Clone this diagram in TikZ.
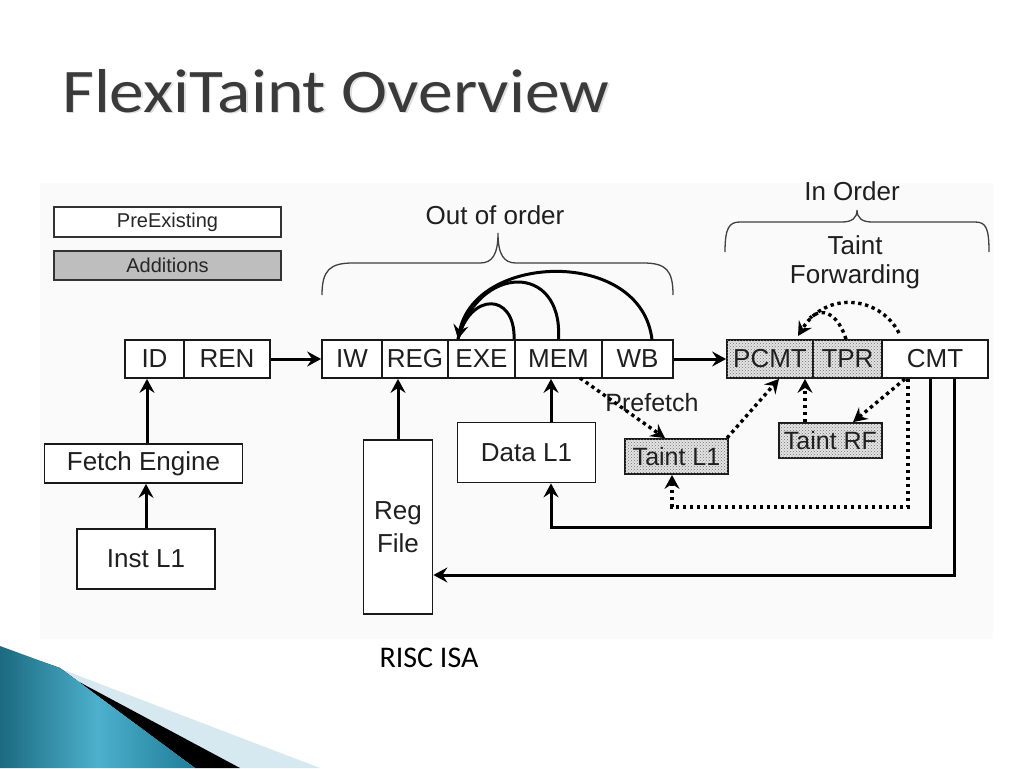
\documentclass[tikz,border=0pt]{standalone}
\usepackage{fontspec}
\setmainfont{Liberation Sans}
\newfontfamily\titlefont{Carlito}
\usetikzlibrary{arrows.meta,patterns,calc}
\definecolor{tealA}{HTML}{1B6A80}
\definecolor{tealB}{HTML}{4DB0CC}
\definecolor{tealC}{HTML}{1F7D98}
\definecolor{paleblue}{HTML}{D6E8F0}
\definecolor{bggray}{HTML}{FAFAFA}
\definecolor{titlegray}{HTML}{3A3A3A}
\definecolor{addgray}{HTML}{BEBEBE}
\begin{document}
\begin{tikzpicture}[x=1pt,y=-1pt,
  blk/.style={draw=black!90, line width=1.8pt, inner sep=0pt, text=black!88,
    font=\fontsize{26}{30}\selectfont, fill=white},
  tnt/.style={blk, fill=gray!22, postaction={pattern=crosshatch dots, pattern color=black!55}},
  leg/.style={draw=black!80, line width=1.4pt, inner sep=0pt, text=black!85,
    font=\fontsize{20}{24}\selectfont, minimum width=227pt, minimum height=30pt},
  arr/.style={line width=3pt, -{Stealth[length=14pt,width=15pt,inset=5pt]}},
  darr/.style={line width=3.4pt, dash pattern=on 3.4pt off 3.6pt, -{Stealth[length=14pt,width=15pt,inset=5pt]}},
  dln/.style={line width=3.4pt, dash pattern=on 3.4pt off 3.6pt},
  bracestyle/.style={line width=1.3pt, draw=black!75},
  lbl/.style={text=black!88, font=\fontsize{26}{30}\selectfont, inner sep=0pt}
]
\useasboundingbox (0,0) rectangle (1024,768);
\fill[white] (0,0) rectangle (1024,768);
\fill[bggray] (40,183) rectangle (993,639);

% slide decoration
\fill[paleblue] (40,661) -- (320,768) -- (240,768) -- cycle;
\fill[black] (40,661) -- (240,768) -- (195,768) -- (60,668) -- cycle;
\shade[left color=tealA, right color=tealC, middle color=tealB]
  (0,646) -- (60,668) -- (195,768) -- (0,768) -- cycle;

% title
\node[anchor=base west, inner sep=0pt, text=gray!25] at (63.5,113.5)
  {\titlefont\fontsize{62}{70}\selectfont\scalebox{1.12}[1]{FlexiTaint Overview}};
\node[anchor=base west, inner sep=0pt, text=titlegray] (title) at (62,112)
  {\titlefont\fontsize{62}{70}\selectfont\scalebox{1.12}[1]{FlexiTaint Overview}};

% legend
\node[leg, fill=white] (pre) at (167.5,222) {PreExisting};
\node[leg, fill=addgray, minimum height=29pt] (add) at (167.5,265.5) {Additions};

% front end
\node[blk, minimum width=59pt, minimum height=38pt] (id) at (154.5,359) {ID};
\node[blk, minimum width=86pt, minimum height=38pt] (ren) at (227,359) {REN};
\node[blk, minimum width=198pt, minimum height=39pt] (fetch) at (143.5,463.5) {Fetch Engine};
\node[blk, minimum width=138pt, minimum height=60pt] (inst) at (146,559) {Inst L1};

% out of order pipeline
\node[blk, minimum width=60pt, minimum height=38pt] (iw) at (352,359) {IW};
\node[blk, minimum width=66pt, minimum height=38pt] (reg) at (415,359) {REG};
\node[blk, minimum width=67pt, minimum height=38pt] (exe) at (481.5,359) {EXE};
\node[blk, minimum width=87pt, minimum height=38pt] (mem) at (558.5,359) {MEM};
\node[blk, minimum width=71pt, minimum height=38pt] (wb) at (637.5,359) {WB};

% in order
\node[tnt, minimum width=86pt, minimum height=38pt] (pcmt) at (770,359) {PCMT};
\node[tnt, minimum width=69pt, minimum height=38pt] (tpr) at (847.5,359) {TPR};
\node[blk, minimum width=106pt, minimum height=38pt] (cmt) at (935,359) {CMT};

% memories
\node[blk, minimum width=138pt, minimum height=60pt] (dl1) at (526.5,452.5) {Data L1};
\node[blk, minimum width=69pt, minimum height=174pt, align=center,
  font=\fontsize{26}{33}\selectfont] (rf) at (398,527) {Reg\\File};
\node[tnt, minimum width=103pt, minimum height=35pt, font=\fontsize{25}{28}\selectfont] (tl1) at (676.5,456.5) {Taint L1};
\node[tnt, minimum width=103pt, minimum height=35pt, font=\fontsize{25}{28}\selectfont] (trf) at (830.5,440.5) {Taint RF};

% braces and labels
\draw[bracestyle] (322,295) .. controls (322,270) and (330,263) .. (353,263) -- (480,263)
  .. controls (492,263) and (498,255) .. (498,233)
  .. controls (498,255) and (504,263) .. (516,263) -- (643,263)
  .. controls (666,263) and (673,270) .. (673,295);
\node[lbl] (ooo) at (495,215) {Out of order};
\draw[bracestyle] (725,252) .. controls (725,228) and (729,222) .. (740,222) -- (842,222)
  .. controls (852,222) and (857,218) .. (857,210)
  .. controls (857,218) and (862,222) .. (872,222) -- (975,222)
  .. controls (986,222) and (989,228) .. (989,252);
\node[lbl] (io) at (852,191) {In Order};
\node[lbl] (tf1) at (855,245) {Taint};
\node[lbl] (tf2) at (855,277) {Forwarding};
\node[lbl, font=\fontsize{25}{28}\selectfont] (pf) at (652,403) {Prefetch};

% solid arrows
\draw[arr] (ren.east) -- (iw.west);
\draw[arr] (wb.east) -- (pcmt.west);
\coordinate (fx) at (147,0);
\draw[arr] (fetch.north -| fx) -- (id.south -| fx);
\draw[arr] (inst.north) -- (inst.north |- fetch.south);
\draw[arr] (rf.north) -- (rf.north |- reg.south);
\coordinate (dx) at (551,0);
\draw[arr] (dl1.north -| dx) -- (mem.south -| dx);
\coordinate (c1) at (930,527);
\draw[arr] (cmt.south -| c1) -- (c1) -| (dl1.south -| dx);
\coordinate (c2) at (954,575);
\draw[arr] (cmt.south -| c2) -- (c2) -- (c2 -| rf.east);

% forwarding arcs
\coordinate (et) at (458,339);
\draw[line width=3pt] (exe.north -| mem.west) .. controls (515,292) and (470,292) .. (et);
\draw[line width=3pt] (mem.north) .. controls (563,262) and (478,264) .. (et);
\draw[arr] (652,340) .. controls (642,248) and (476,252) .. (et);

% dotted taint paths
\coordinate (pt) at (798,336);
\draw[dln] (tpr.north -| 846,0) .. controls (838,314) and (822,306) .. (810,318);
\draw[darr] (899,333) .. controls (880,296) and (826,290) .. (pt);
\coordinate (ma) at (580,378);
\draw[darr] (ma) -- (tl1.north -| 665,0);
\draw[darr] (727,438) -- (pcmt.south -| 779,0);
\draw[darr] (trf.north -| 805,0) -- (pcmt.south -| 805,0);
\draw[darr] (cmt.south -| 905,0) -- (trf.north -| 853,0);
\coordinate (c3) at (908,507);
\draw[darr] (cmt.south -| c3) -- (c3) -| (tl1.south -| 672,0);

% caption
\node[inner sep=0pt, text=black, font=\titlefont\fontsize{30}{34}\selectfont] (cap) at (429,658) {RISC ISA};
\end{tikzpicture}
\end{document}
